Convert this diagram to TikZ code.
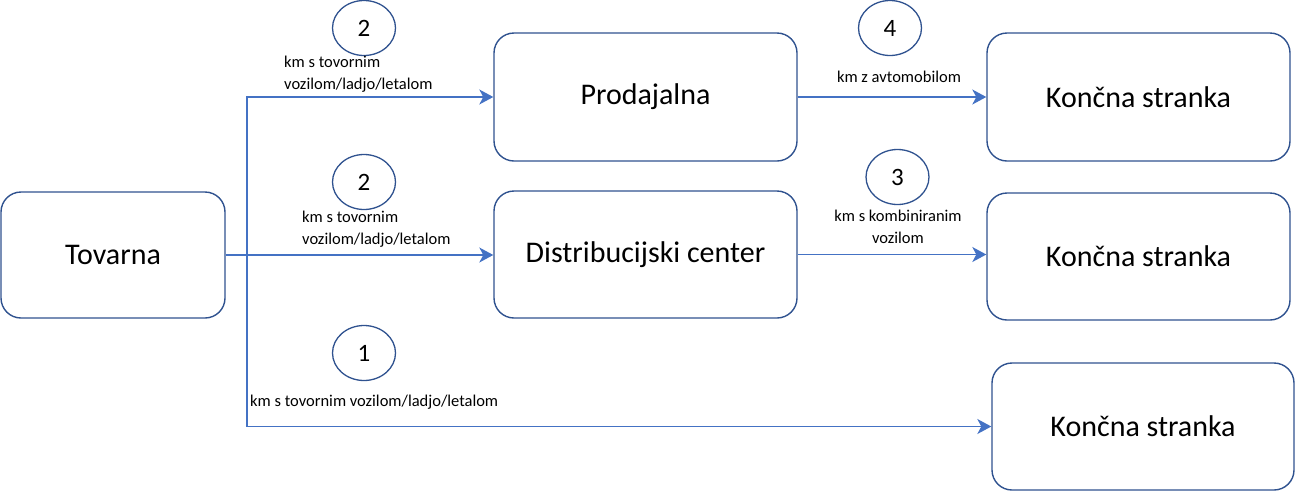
\documentclass[tikz,border=0pt]{standalone}
\usepackage{fontspec}
\setmainfont{Carlito}
\usetikzlibrary{shapes.geometric,arrows.meta}
\definecolor{boxline}{HTML}{2F528F}
\definecolor{arrowline}{HTML}{4472C4}
\begin{document}
\begin{tikzpicture}[x=1pt,y=-1pt,
  stagebox/.style={draw=boxline,line width=1.4pt,rounded corners=20pt,inner sep=0pt,
    font=\fontsize{30}{36}\selectfont,text=black},
  numoval/.style={draw=boxline,line width=1.3pt,ellipse,minimum width=63pt,minimum height=55pt,
    inner sep=0pt,font=\fontsize{25}{30}\selectfont},
  smalllabel/.style={inner sep=0pt,font=\fontsize{16.5}{22}\selectfont},
  flow/.style={draw=arrowline,line width=1.4pt,-{Stealth[length=14pt,width=15pt,inset=4pt]}},
  trunk/.style={draw=arrowline,line width=1.4pt}]
\useasboundingbox (0,0) rectangle (1295,491);
% boxes
\node[stagebox,minimum width=224pt,minimum height=126pt] (tov) at (113,255) {Tovarna};
\node[stagebox,minimum width=303pt,minimum height=128pt] (prod) at (645.5,97) {Prodajalna};
\node[stagebox,minimum width=303pt,minimum height=127pt] (dist) at (645.5,254.5) {Distribucijski center};
\node[stagebox,minimum width=303pt,minimum height=128pt] (k1) at (1138.5,97) {Končna stranka};
\node[stagebox,minimum width=303pt,minimum height=127pt] (k2) at (1138.5,256.5) {Končna stranka};
\node[stagebox,minimum width=302pt,minimum height=127pt] (k3) at (1143,426.5) {Končna stranka};
% number ovals
\node[numoval] (n2a) at (364,28) {2};
\node[numoval] (n2b) at (364,182) {2};
\node[numoval] (n1) at (364,353) {1};
\node[numoval] (n4) at (890,28) {4};
\node[numoval] (n3) at (897.5,177) {3};
% labels
\node[smalllabel,anchor=west,align=left] (l2a) at (284,74) {km s tovornim\\vozilom/ladjo/letalom};
\node[smalllabel,anchor=west,align=left] (l2b) at (302,229) {km s tovornim\\vozilom/ladjo/letalom};
\node[smalllabel,anchor=west] (l1) at (250,402) {km s tovornim vozilom/ladjo/letalom};
\node[smalllabel] (l4) at (899,77) {km z avtomobilom};
\node[smalllabel,align=center] (l3) at (898,227) {km s kombiniranim\\vozilom};
% connectors
\coordinate (jtop) at (247,96);
\coordinate (jbot) at (247,426.5);
\draw[trunk] (jtop) -- (jbot);
\draw[flow] (jtop |- prod.west) -- (prod.west);
\draw[flow] (tov.east) -- (tov.east -| dist.west);
\draw[flow] (jbot) -- (k3.west);
\draw[flow] (prod.east) -- (k1.west);
\draw[flow] (dist.east) -- (dist.east -| k2.west);
\end{tikzpicture}
\end{document}
